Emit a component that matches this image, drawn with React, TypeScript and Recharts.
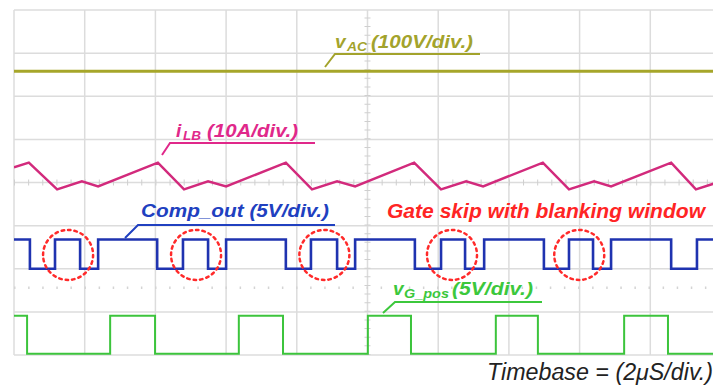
import React from "react";
import {
  LineChart,
  Line,
  XAxis,
  YAxis,
  CartesianGrid,
  ReferenceLine,
  ReferenceDot,
} from "recharts";

// time in µs (2 µs/div), amplitude in screen divisions (center = 0)
const X_TICKS = [0, 2, 4, 6, 8, 10, 12, 14, 16, 18, 20];
const Y_TICKS = [-4, -3, -2, -1, 0, 1, 2, 3, 4];

// v_AC
const VAC_T = [0, 20];
const VAC_V = [2.58, 2.58];

// i_LB
const ILB_T = [0, 0.42, 1.22, 1.92, 2.38, 4.07, 4.81, 5.49, 6.0, 7.69, 8.43, 9.14, 9.65, 11.32, 12.08, 12.79, 13.27, 14.96, 15.7, 16.41, 16.89, 18.59, 19.29, 20];
const ILB_V = [0.35, 0.46, -0.16, 0.03, -0.09, 0.46, -0.16, 0.03, -0.09, 0.46, -0.16, 0.03, -0.09, 0.46, -0.16, 0.03, -0.09, 0.46, -0.16, 0.03, -0.09, 0.46, -0.16, 0.03];

// Comp_out
const COMP_T = [0, 0.45, 1.16, 1.87, 2.38, 4.05, 4.78, 5.49, 6.0, 7.69, 8.4, 9.14, 9.65, 11.34, 12.08, 12.76, 13.3, 14.99, 15.7, 16.38, 16.89, 18.59, 19.32, 20];
const COMP_V = [-1.32, -2.0, -1.32, -2.0, -1.32, -2.0, -1.32, -2.0, -1.32, -2.0, -1.32, -2.0, -1.32, -2.0, -1.32, -2.0, -1.32, -2.0, -1.32, -2.0, -1.32, -2.0, -1.32, -1.32];

// v_G_pos
const GATE_T = [0, 0.37, 2.72, 3.99, 6.36, 7.61, 10.01, 11.23, 13.63, 14.82, 17.26, 18.5, 20];
const GATE_V = [-3.09, -3.97, -3.09, -3.97, -3.09, -3.97, -3.09, -3.97, -3.09, -3.97, -3.09, -3.97, -3.97];

// skipped-gate markers
const SKIP_T = [1.53, 5.15, 8.78, 12.39, 15.99];
const SKIP_Y = -1.68;

const zip = (t: number[], v: number[]) => t.map((x, i) => ({ t: x, v: v[i] }));

const FONT = "'Liberation Sans', Arial, sans-serif";

function Labels() {
  const bi = { fontFamily: FONT, fontWeight: 700, fontStyle: "italic" as const };
  return (
    <svg
      width={713}
      height={385}
      style={{ position: "absolute", left: 0, top: 0, pointerEvents: "none" }}
    >
      {/* v_AC */}
      <g fill="#a3a32c" stroke="none">
        <text x={335} y={48} fontSize={19} {...bi}>v</text>
        <text x={347} y={51} fontSize={13} textLength={20} lengthAdjust="spacingAndGlyphs" {...bi}>AC</text>
        <text x={371} y={48} fontSize={19} textLength={102} lengthAdjust="spacingAndGlyphs" {...bi}>(100V/div.)</text>
      </g>
      <polyline points="325,67 335,54 480,54" fill="none" stroke="#a3a32c" strokeWidth={2} />

      {/* i_LB */}
      <g fill="#e0288a">
        <text x={176} y={137} fontSize={19} {...bi}>i</text>
        <text x={183} y={140} fontSize={13} textLength={18} lengthAdjust="spacingAndGlyphs" {...bi}>LB</text>
        <text x={207} y={137} fontSize={19} textLength={91} lengthAdjust="spacingAndGlyphs" {...bi}>(10A/div.)</text>
      </g>
      <polyline points="162,155 170,143 315,143" fill="none" stroke="#e0288a" strokeWidth={2} />

      {/* Comp_out */}
      <text x={141} y={217} fontSize={19} fill="#2040c0" textLength={188} lengthAdjust="spacingAndGlyphs" {...bi}>
        Comp_out (5V/div.)
      </text>
      <polyline points="125,238 138,225 335,225" fill="none" stroke="#2040c0" strokeWidth={2} />

      {/* red note */}
      <text x={387} y={218} fontSize={20} fill="#ff2424" textLength={318} lengthAdjust="spacingAndGlyphs" {...bi}>
        Gate skip with blanking window
      </text>

      {/* v_G_pos */}
      <g fill="#3cc83c">
        <text x={393} y={295} fontSize={19} {...bi}>v</text>
        <text x={404} y={298} fontSize={13} textLength={45} lengthAdjust="spacingAndGlyphs" {...bi}>G_pos</text>
        <text x={452} y={295} fontSize={19} textLength={81} lengthAdjust="spacingAndGlyphs" {...bi}>(5V/div.)</text>
      </g>
      <polyline points="383,313 395,302 542,302" fill="none" stroke="#3cc83c" strokeWidth={2} />

      {/* timebase */}
      <text
        x={487}
        y={380}
        fontSize={23}
        fill="#222"
        textLength={226}
        lengthAdjust="spacingAndGlyphs"
        style={{ fontFamily: FONT, fontStyle: "italic" }}
      >
        Timebase = (2μS/div.)
      </text>
    </svg>
  );
}

export default function App() {
  return (
    <div
      style={{
        position: "fixed",
        left: 0,
        top: 0,
        width: 713,
        height: 385,
        overflow: "hidden",
        background: "#fff",
      }}
    >
      <LineChart width={730} height={385} margin={{ top: 10, right: 9, bottom: 30, left: 14 }}>
        <CartesianGrid stroke="#dcdcdc" strokeWidth={1.5} />
        <XAxis dataKey="t" type="number" domain={[0, 20]} ticks={X_TICKS} hide allowDataOverflow />
        <YAxis type="number" domain={[-4, 4]} ticks={Y_TICKS} hide allowDataOverflow />

        {/* center graticule minor ticks */}
        <ReferenceLine y={0} stroke="#cfcfcf" strokeWidth={6} strokeDasharray="1 13.14" />
        <ReferenceLine x={10} stroke="#cfcfcf" strokeWidth={6} strokeDasharray="1 7.63" />
        <ReferenceLine y={-2.44} stroke="#d4d4d4" strokeWidth={2.5} strokeDasharray="1.5 12.6" />

        <Line data={zip(VAC_T, VAC_V)} dataKey="v" type="linear" stroke="#a6a62a" strokeWidth={3} dot={false} isAnimationActive={false} />
        <Line data={zip(ILB_T, ILB_V)} dataKey="v" type="linear" stroke="#d22a7c" strokeWidth={2.5} dot={false} isAnimationActive={false} />
        <Line data={zip(COMP_T, COMP_V)} dataKey="v" type="stepAfter" stroke="#1f33b0" strokeWidth={2.6} dot={false} isAnimationActive={false} />
        <Line data={zip(GATE_T, GATE_V)} dataKey="v" type="stepAfter" stroke="#3cc43c" strokeWidth={2} dot={false} isAnimationActive={false} />

        {SKIP_T.map((t) => (
          <ReferenceDot
            key={t}
            x={t}
            y={SKIP_Y}
            r={25}
            fill="none"
            stroke="#ff2a2a"
            strokeWidth={2.5}
            strokeDasharray="2.5 4"
            strokeLinecap="round"
          />
        ))}
      </LineChart>
      <Labels />
    </div>
  );
}
